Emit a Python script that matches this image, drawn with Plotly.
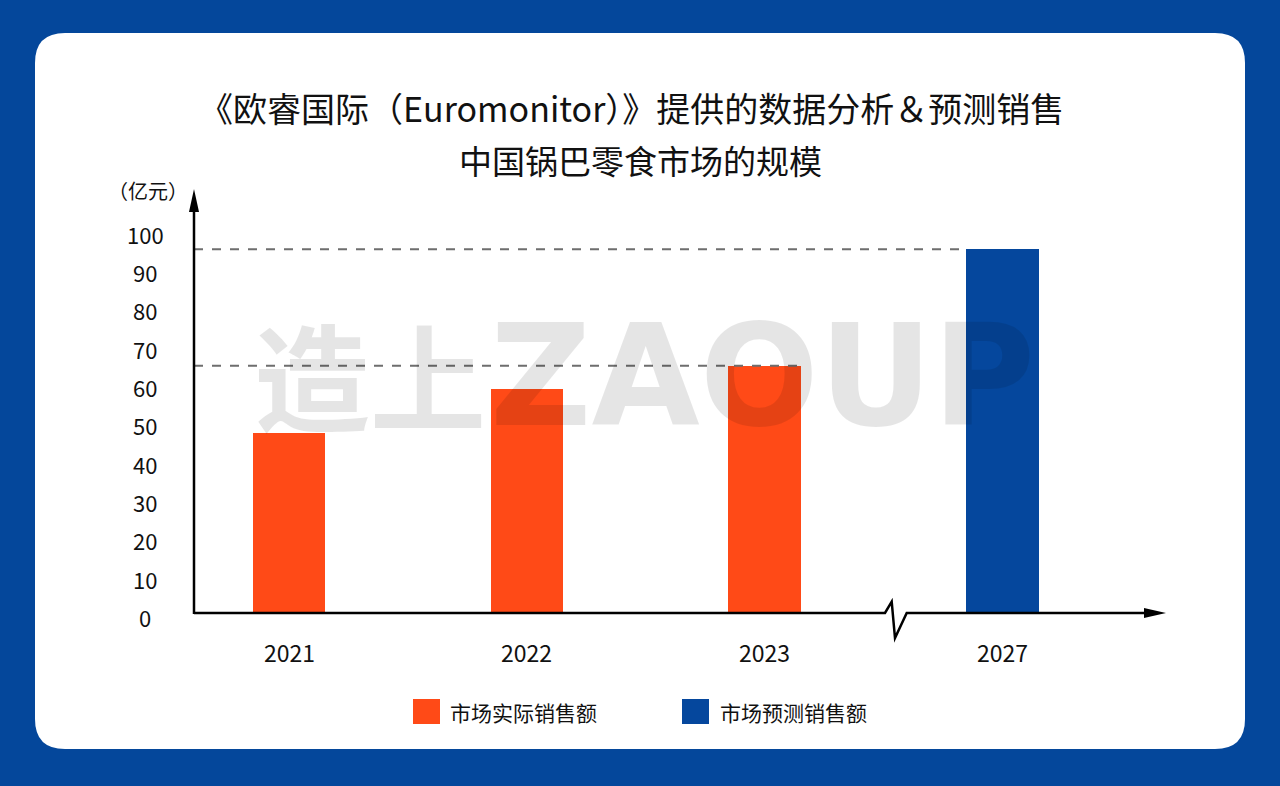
import plotly.graph_objects as go

# ---------------- data ----------------
years = ["2021", "2022", "2023", "2027"]
actual_years = ["2021", "2022", "2023"]
actual_values = [47.0, 58.4, 64.5]
forecast_years = ["2027"]
forecast_values = [94.9]
y_ticks = [0, 10, 20, 30, 40, 50, 60, 70, 80, 90, 100]
series_names = ["市场实际销售额", "市场预测销售额"]
title_line1 = "《欧睿国际（Euromonitor）》提供的数据分析＆预测销售"
title_line2 = "中国锅巴零食市场的规模"
unit_label = "（亿元）"

# ---------------- style ----------------
ORANGE = "#FF4A17"
BLUE = "#05479D"
BG = "#04479B"
FONT = "Noto Sans CJK SC"
W, H = 1280, 786
L, R, T, B = 194, 115, 190, 173
PW, PH = W - L - R, H - T - B
SCALE = 3.834            # px per unit on y
BAR_STEP = 237.7         # px between categories
X0PX = 289.2             # px of first category centre
BAR_W = 0.305

x_min = (L - X0PX) / BAR_STEP
x_max = (W - R - X0PX) / BAR_STEP
y_max = PH / SCALE


def X(px):
    return (px - L) / PW


def Y(py):
    return (H - B - py) / PH


idx = {y: i for i, y in enumerate(years)}

fig = go.Figure()
fig.add_trace(go.Bar(x=[idx[y] for y in actual_years], y=actual_values, width=BAR_W,
                     marker=dict(color=ORANGE, line=dict(width=0)), name=series_names[0],
                     showlegend=False))
fig.add_trace(go.Bar(x=[idx[y] for y in forecast_years], y=forecast_values, width=BAR_W,
                     marker=dict(color=BLUE, line=dict(width=0)), name=series_names[1],
                     showlegend=False))

shapes = []
# white card
r = 30
x1, y1, x2, y2 = 35, 33, 1245, 749
path = (f"M {X(x1 + r)},{Y(y1)} L {X(x2 - r)},{Y(y1)} Q {X(x2)},{Y(y1)} {X(x2)},{Y(y1 + r)} "
        f"L {X(x2)},{Y(y2 - r)} Q {X(x2)},{Y(y2)} {X(x2 - r)},{Y(y2)} "
        f"L {X(x1 + r)},{Y(y2)} Q {X(x1)},{Y(y2)} {X(x1)},{Y(y2 - r)} "
        f"L {X(x1)},{Y(y1 + r)} Q {X(x1)},{Y(y1)} {X(x1 + r)},{Y(y1)} Z")
shapes.append(dict(type="path", path=path, xref="paper", yref="paper", layer="below",
                   fillcolor="white", line=dict(width=0)))

# dashed reference lines
shapes.append(dict(type="line", xref="x", yref="y", x0=x_min, x1=idx[actual_years[-1]] + BAR_W / 2,
                   y0=actual_values[-1], y1=actual_values[-1],
                   line=dict(color="#6E6E6E", width=2, dash="dash"), layer="above"))
shapes.append(dict(type="line", xref="x", yref="y", x0=x_min, x1=idx[forecast_years[0]] - BAR_W / 2,
                   y0=forecast_values[0], y1=forecast_values[0],
                   line=dict(color="#6E6E6E", width=2, dash="dash"), layer="above"))

# axes with break
axis_path = (f"M {X(194)},{Y(613)} L {X(885)},{Y(613)} L {X(891.7)},{Y(601.7)} "
             f"L {X(895)},{Y(638)} L {X(906.7)},{Y(613)} L {X(1148)},{Y(613)}")
shapes.append(dict(type="path", path=axis_path, xref="paper", yref="paper",
                   line=dict(color="black", width=2.5), layer="above"))
shapes.append(dict(type="line", xref="paper", yref="paper", x0=X(194), x1=X(194), y0=Y(614), y1=Y(208),
                   line=dict(color="black", width=2.5), layer="above"))
# arrow heads
shapes.append(dict(type="path", xref="paper", yref="paper", layer="above",
                   path=f"M {X(1166)},{Y(613)} L {X(1144)},{Y(608)} L {X(1144)},{Y(618)} Z",
                   fillcolor="black", line=dict(width=0)))
shapes.append(dict(type="path", xref="paper", yref="paper", layer="above",
                   path=f"M {X(194)},{Y(189)} L {X(189)},{Y(212)} L {X(199)},{Y(212)} Z",
                   fillcolor="black", line=dict(width=0)))

# legend squares
shapes.append(dict(type="rect", xref="paper", yref="paper", x0=X(413), x1=X(440), y0=Y(699), y1=Y(724),
                   fillcolor=ORANGE, line=dict(width=0)))
shapes.append(dict(type="rect", xref="paper", yref="paper", x0=X(682), x1=X(709), y0=Y(699), y1=Y(724),
                   fillcolor=BLUE, line=dict(width=0)))

ann = []
# titles
ann.append(dict(text=title_line1, x=X(631), y=Y(108), xref="paper", yref="paper", showarrow=False,
                xanchor="center", yanchor="middle", font=dict(family=FONT, size=34, color="#111")))
ann.append(dict(text=title_line2, x=X(640), y=Y(160), xref="paper", yref="paper", showarrow=False,
                xanchor="center", yanchor="middle", font=dict(family=FONT, size=33, color="#111")))
# unit
ann.append(dict(text=unit_label, x=X(148), y=Y(190), xref="paper", yref="paper", showarrow=False,
                xanchor="center", yanchor="middle", font=dict(family=FONT, size=20, color="#111")))
# y tick labels
for v in y_ticks:
    ann.append(dict(text=str(v), x=X(145), y=v, xref="paper", yref="y", yshift=-4, showarrow=False,
                    xanchor="center", yanchor="middle", font=dict(family=FONT, size=22, color="#111")))
# x tick labels
for yr in years:
    ann.append(dict(text=yr, x=idx[yr], y=Y(652), xref="x", yref="paper", showarrow=False,
                    xanchor="center", yanchor="middle", font=dict(family=FONT, size=23, color="#111")))
# legend texts
ann.append(dict(text=series_names[0], x=X(448), y=Y(712), xref="paper", yref="paper", showarrow=False,
                xanchor="left", yanchor="middle", font=dict(family=FONT, size=21, color="#111")))
ann.append(dict(text=series_names[1], x=X(718), y=Y(712), xref="paper", yref="paper", showarrow=False,
                xanchor="left", yanchor="middle", font=dict(family=FONT, size=21, color="#111")))
# watermark
ann.append(dict(text="<b>造上</b>", x=X(370), y=Y(372), xref="paper", yref="paper", showarrow=False,
                xanchor="center", yanchor="middle",
                font=dict(family=FONT, size=116, color="rgba(0,0,0,0.1)")))
ann.append(dict(text="<b>ZAOUP</b>", x=X(762), y=Y(376), xref="paper", yref="paper", showarrow=False,
                xanchor="center", yanchor="middle",
                font=dict(family="DejaVu Sans", size=140, color="rgba(0,0,0,0.1)")))

fig.update_layout(
    width=W, height=H,
    margin=dict(l=L, r=R, t=T, b=B, autoexpand=False),
    paper_bgcolor=BG, plot_bgcolor="rgba(0,0,0,0)",
    xaxis=dict(range=[x_min, x_max], showgrid=False, zeroline=False, showticklabels=False,
               showline=False, fixedrange=True),
    yaxis=dict(range=[0, y_max], showgrid=False, zeroline=False, showticklabels=False,
               showline=False, tickvals=y_ticks, fixedrange=True),
    shapes=shapes, annotations=ann, showlegend=False, bargap=0,
)

fig.write_html("out.html", config={"displayModeBar": False})
